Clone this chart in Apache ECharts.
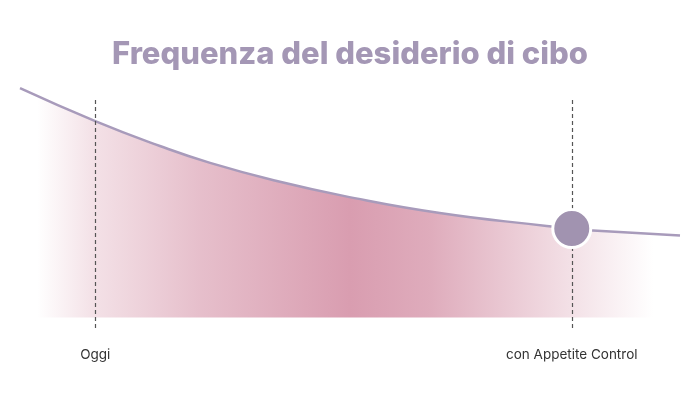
<!DOCTYPE html>
<html>
<head>
<meta charset="utf-8">
<style>html,body{margin:0;padding:0;background:#fff;}#c{width:700px;height:400px;}</style>
<script src="https://cdn.jsdelivr.net/npm/echarts@6/dist/echarts.min.js"></script>
</head>
<body>
<div id="c"></div>
<script>
var titleText = 'Frequenza del desiderio di cibo';
var curveX = [0, 11.4, 21.2, 28.8, 38.9, 49.2, 63.6, 79.8, 83.6, 86.8, 100];
var curveY = [88.4, 75.7, 66.1, 59.6, 52.6, 46.8, 40.3, 35.3, 34.3, 33.6, 31.6];
var tickPositions = [11.4, 83.6];
var tickLabels = ['Oggi', 'con Appetite Control'];
var markerPoint = [83.6, 34.3];
var dashTop = 85;

var chart = echarts.init(document.getElementById('c'), null, {renderer: 'canvas'});
var lineData = curveX.map(function (x, i) { return [x, curveY[i]]; });

chart.setOption({
  animation: false,
  backgroundColor: '#fff',
  title: {
    text: titleText,
    left: 'center',
    top: 34,
    textStyle: {fontFamily: 'Inter', fontWeight: 800, fontSize: 31, color: '#a497b5'}
  },
  grid: {left: 20, right: 20, top: 58, bottom: 72},
  xAxis: {
    type: 'value', min: 0, max: 100,
    splitLine: {show: false}, axisLine: {show: false}, axisTick: {show: false},
    axisLabel: {
      customValues: tickPositions,
      margin: 20,
      fontFamily: 'Inter', fontSize: 13.5, color: '#333',
      formatter: function (v) {
        var i = tickPositions.indexOf(v);
        return i >= 0 ? tickLabels[i] : '';
      }
    }
  },
  yAxis: {
    type: 'value', min: -4, max: 100, show: false,
    splitLine: {show: false}
  },
  series: [
    {
      type: 'line',
      data: lineData,
      smooth: 0.5,
      symbol: 'none',
      lineStyle: {color: '#a89bbb', width: 2.5},
      areaStyle: {
        origin: 0,
        opacity: 1,
        color: {
          type: 'linear', x: 0, y: 0, x2: 1, y2: 0,
          colorStops: [
            {offset: 0, color: 'rgba(217,157,176,0)'},
            {offset: 0.026, color: 'rgba(217,157,176,0)'},
            {offset: 0.11, color: 'rgba(217,157,176,0.3)'},
            {offset: 0.27, color: 'rgba(217,157,176,0.65)'},
            {offset: 0.5, color: 'rgba(217,157,176,1)'},
            {offset: 0.62, color: 'rgba(217,157,176,0.85)'},
            {offset: 0.82, color: 'rgba(217,157,176,0.35)'},
            {offset: 0.96, color: 'rgba(217,157,176,0)'},
            {offset: 1, color: 'rgba(217,157,176,0)'}
          ]
        }
      },
      markLine: {
        silent: true,
        symbol: 'none',
        label: {show: false},
        lineStyle: {color: '#555', width: 1.2, type: [4, 3]},
        data: tickPositions.map(function (x) {
          return [{coord: [x, -4]}, {coord: [x, dashTop]}];
        })
      },
      z: 2
    },
    {
      type: 'scatter',
      data: [markerPoint],
      symbolSize: 38,
      itemStyle: {color: '#a193b0', borderColor: '#fff', borderWidth: 3, opacity: 1},
      z: 5
    }
  ]
});
</script>
</body>
</html>
